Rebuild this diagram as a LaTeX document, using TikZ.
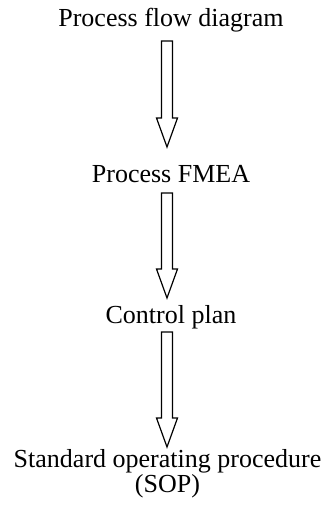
\documentclass[tikz,border=0pt]{standalone}
\usepackage{fontspec}
\setmainfont{Liberation Serif}
\usetikzlibrary{calc}

\newcommand{\hollowarrow}[2]{%
  \draw[block arrow] ($(#1)+(-5.5pt,0)$) -- ($(#1)+(5.5pt,0)$) -- ($(#2)+(5.5pt,29pt)$)
    -- ($(#2)+(10.5pt,29pt)$) -- (#2) -- ($(#2)+(-10.5pt,29pt)$) -- ($(#2)+(-5.5pt,29pt)$) -- cycle;}

\begin{document}
\begin{tikzpicture}[x=1pt,y=1pt,thick,main node/.style={inner sep=0pt,anchor=base,align=center,font=\fontsize{26}{25}\selectfont},block arrow/.style={line width=1.2pt,line join=miter}]
                        \useasboundingbox (0,0) rectangle (333,-511);

                        \node[main node] (1) at (171,-27) {Process flow diagram};
                        \node[main node] (2) at (171,-182) {Process FMEA};
                        \node[main node] (3) at (171,-323) {Control plan};
                        \node[main node] (4) at (167.5,-492) {Standard operating procedure\\(SOP)};

                        \coordinate (1a) at (167,-41);
                        \coordinate (1b) at (167,-147);
                        \coordinate (2a) at (167,-193);
                        \coordinate (2b) at (167,-298);
                        \coordinate (3a) at (167,-332);
                        \coordinate (3b) at (167,-447);

                        \hollowarrow{1a}{1b}
                        \hollowarrow{2a}{2b}
                        \hollowarrow{3a}{3b}
                    \end{tikzpicture}
\end{document}
